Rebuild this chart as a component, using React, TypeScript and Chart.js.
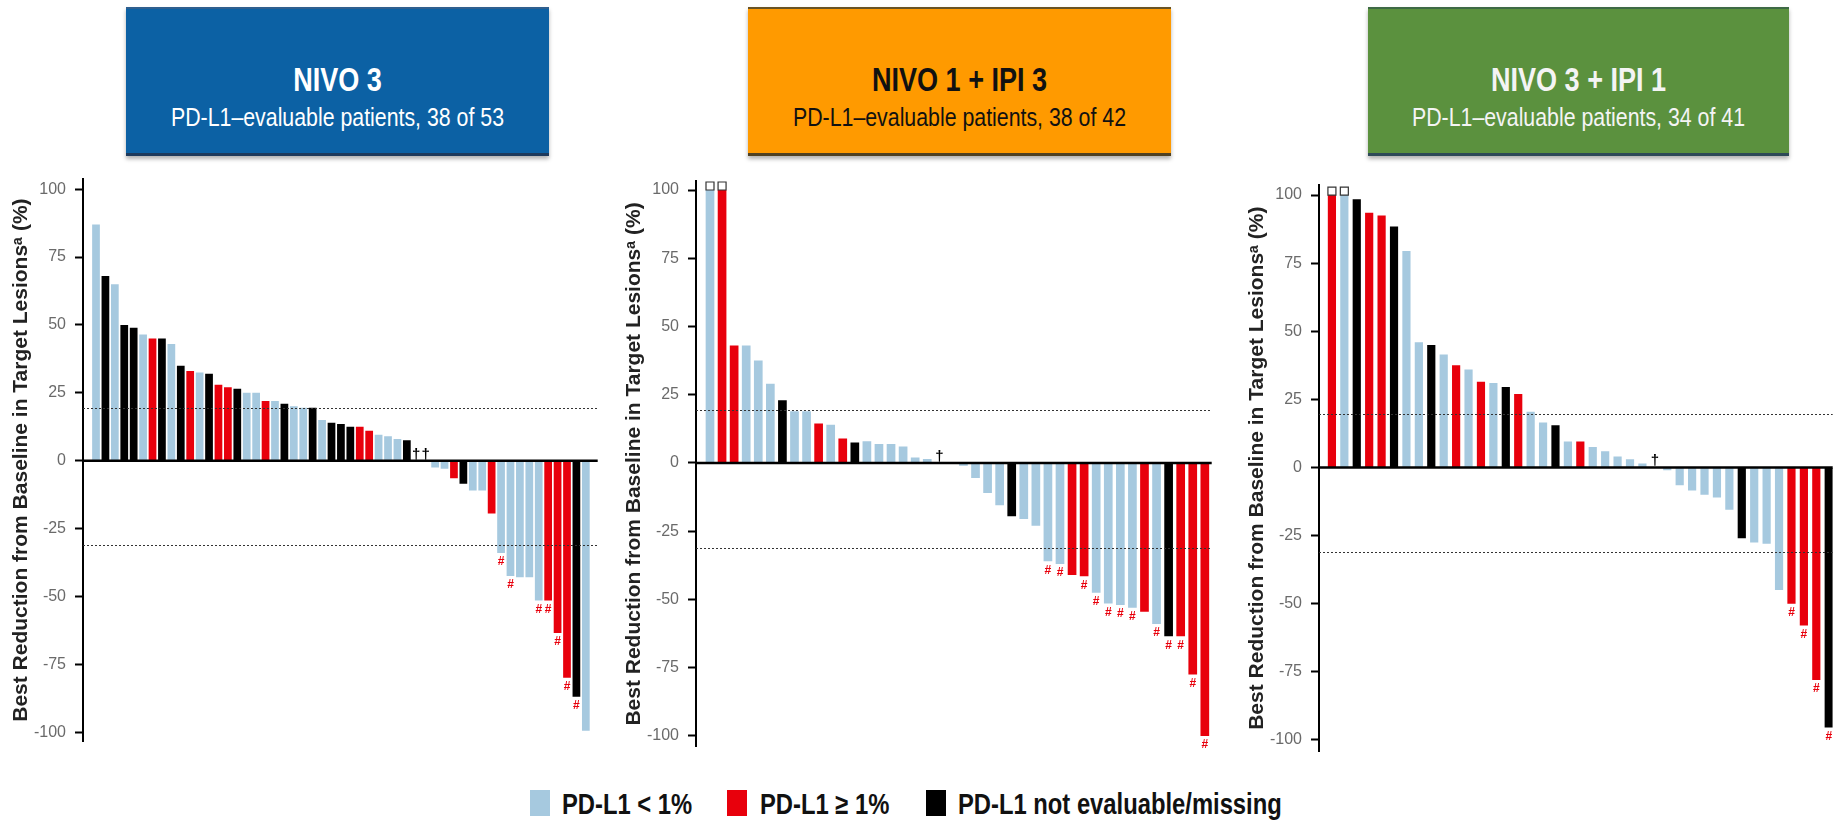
import React, { useEffect, useRef } from "react";
import { Chart, registerables } from "chart.js";
Chart.register(...registerables);

Chart.defaults.font.family = "'Liberation Sans', Arial, Helvetica, sans-serif";

// ---------- colours ----------
const COLORS: Record<string, string> = { L: "#A6C9DF", R: "#E8000C", B: "#000000" };

// ---------- shared axis ----------
const yTicks = [-100, -75, -50, -25, 0, 25, 50, 75, 100];
const yTitle = "Best Reduction from Baseline in Target Lesionsᵃ (%)";
const refLines = [19.5, -31];

// ---------- headers / legend ----------
const armTitles = ["NIVO 3", "NIVO 1 + IPI 3", "NIVO 3 + IPI 1"];
const armSubtitles = [
  "PD-L1–evaluable patients, 38 of 53",
  "PD-L1–evaluable patients, 38 of 42",
  "PD-L1–evaluable patients, 34 of 41",
];
const legendLabels = ["PD-L1 < 1%", "PD-L1 ≥ 1%", "PD-L1 not evaluable/missing"];
const legendGroups = ["L", "R", "B"];

// ---------- Panel 1: NIVO 3 ----------
const p1Values = [
  87, 68, 65, 50, 49, 46.5, 45, 45, 43, 35,
  33, 32.5, 32, 28, 27, 26.5, 25, 25, 22, 22,
  21, 20, 19.5, 19.5, 15, 14, 13.5, 12.5, 12.5, 11,
  9.5, 9, 8, 7.5, 0, 0, -2.5, -3, -6.5, -8.5,
  -11, -11, -19.5, -34, -42.5, -43, -43, -51.5, -51.5, -63.5,
  -80, -87, -99.5,
];
const p1Groups = [
  "L", "B", "L", "B", "B", "L", "R", "B", "L", "B",
  "R", "L", "B", "R", "R", "B", "L", "L", "R", "L",
  "B", "L", "L", "B", "L", "B", "B", "B", "R", "R",
  "L", "L", "L", "B", "L", "L", "L", "L", "R", "B",
  "L", "L", "R", "L", "L", "L", "L", "L", "R", "R",
  "R", "B", "L",
];
const p1Daggers = [35, 36];
const p1Hashes = [44, 45, 48, 49, 50, 51, 52];
const p1Squares: number[] = [];

// ---------- Panel 2: NIVO 1 + IPI 3 ----------
const p2Values = [
  100, 100, 43, 43, 37.5, 29, 23, 19, 19, 14.5,
  14, 9, 7.5, 8, 7, 7, 6, 2, 1.5, 0,
  0, -1, -5.5, -11, -15.5, -19.5, -20.5, -23, -36, -37,
  -41, -41.5, -47.5, -51.5, -52, -53, -54.5, -59, -63.5, -63.5,
  -77.5, -100,
];
const p2Groups = [
  "L", "R", "R", "L", "L", "L", "B", "L", "L", "R",
  "L", "R", "B", "L", "L", "L", "L", "L", "L", "L",
  "L", "L", "L", "L", "L", "B", "L", "L", "L", "L",
  "R", "R", "L", "L", "L", "L", "R", "L", "B", "R",
  "R", "R",
];
const p2Daggers = [20];
const p2Hashes = [29, 30, 32, 33, 34, 35, 36, 38, 39, 40, 41, 42];
const p2Squares = [1, 2];

// ---------- Panel 3: NIVO 3 + IPI 1 ----------
const p3Values = [
  100, 100, 98.5, 93.5, 92.5, 88.5, 79.5, 46, 45, 41.5,
  37.5, 36, 31.5, 31, 29.5, 27, 20.5, 16.5, 15.5, 9.5,
  9.5, 7.5, 6, 4, 3, 1.5, 0, -1, -6.5, -8.5,
  -10, -11, -15.5, -26, -27.5, -28, -45, -50, -58, -78,
  -95.5,
];
const p3Groups = [
  "R", "L", "B", "R", "R", "B", "L", "L", "B", "L",
  "R", "L", "R", "L", "B", "R", "L", "L", "B", "L",
  "R", "L", "L", "L", "L", "L", "L", "L", "L", "L",
  "L", "L", "L", "B", "L", "L", "L", "R", "R", "R",
  "B",
];
const p3Daggers = [27];
const p3Hashes = [38, 39, 40, 41];
const p3Squares = [1, 2];

const AXIS_W = 75;
const CANVAS_TOP = 160;
const CANVAS_BOTTOM = 775;

type PanelProps = {
  values: number[];
  groups: string[];
  daggers: number[];
  hashes: number[];
  squares: number[];
  axisX: number;
  rightX: number;
  areaTop: number;
  areaBottom: number;
  yMin: number;
  yMax: number;
  xMin: number;
  xMax: number;
  barPct: number;
};

function Panel(p: PanelProps) {
  const ref = useRef<HTMLCanvasElement | null>(null);
  const left = p.axisX - AXIS_W;
  const width = Math.ceil(p.rightX - left);
  const height = CANVAS_BOTTOM - CANVAS_TOP;
  useEffect(() => {
    if (!ref.current) return;
    const overlay = {
      id: "overlay",
      afterDatasetsDraw(chart: any) {
        const { ctx, chartArea: a, scales } = chart;
        const y = scales.y;
        ctx.save();
        // reference lines
        ctx.strokeStyle = "#333";
        ctx.lineWidth = 1;
        ctx.setLineDash([2, 2]);
        refLines.forEach((v) => {
          const py = Math.round(y.getPixelForValue(v)) + 0.5;
          ctx.beginPath();
          ctx.moveTo(a.left, py);
          ctx.lineTo(a.right, py);
          ctx.stroke();
        });
        ctx.setLineDash([]);
        // zero line
        const y0 = y.getPixelForValue(0);
        ctx.strokeStyle = "#000";
        ctx.lineWidth = 2.5;
        ctx.beginPath();
        ctx.moveTo(a.left, y0);
        ctx.lineTo(a.right, y0);
        ctx.stroke();
        // markers
        const meta = chart.getDatasetMeta(0);
        ctx.textAlign = "center";
        p.daggers.forEach((n) => {
          const el = meta.data[n - 1];
          ctx.fillStyle = "#000";
          ctx.font = "bold 15px 'Liberation Sans', Arial";
          ctx.textBaseline = "alphabetic";
          ctx.fillText("†", el.x, y0 - 2);
        });
        p.hashes.forEach((n) => {
          const el = meta.data[n - 1];
          ctx.fillStyle = COLORS.R;
          ctx.font = "bold 12px 'Liberation Sans', Arial";
          ctx.textBaseline = "top";
          ctx.fillText("#", el.x, el.y + 3);
        });
        p.squares.forEach((n) => {
          const el = meta.data[n - 1];
          ctx.fillStyle = "#fff";
          ctx.strokeStyle = "#333";
          ctx.lineWidth = 1.2;
          ctx.beginPath();
          ctx.rect(el.x - 4, el.y - 8, 8, 8);
          ctx.fill();
          ctx.stroke();
        });
        ctx.restore();
      },
    };
    const chart = new Chart(ref.current, {
      type: "bar",
      data: {
        datasets: [
          {
            data: p.values.map((v, i) => ({ x: i + 1, y: v })),
            backgroundColor: p.groups.map((g) => COLORS[g]),
            borderWidth: 0,
            categoryPercentage: 1,
            barPercentage: p.barPct,
          } as any,
        ],
      },
      options: {
        responsive: false,
        animation: false,
        layout: {
          padding: {
            left: 0,
            top: p.areaTop - CANVAS_TOP,
            bottom: CANVAS_BOTTOM - p.areaBottom,
            right: width - (p.rightX - left),
          },
        },
        plugins: { legend: { display: false }, tooltip: { enabled: false }, title: { display: false } },
        scales: {
          x: {
            type: "linear",
            min: p.xMin,
            max: p.xMax,
            offset: false,
            bounds: "data",
            grace: 0,
            display: false,
            grid: { offset: false },
            afterBuildTicks: (s: any) => {
              s.min = p.xMin;
              s.max = p.xMax;
            },
          },
          y: {
            min: p.yMin,
            max: p.yMax,
            afterBuildTicks: (s: any) => {
              s.min = p.yMin;
              s.max = p.yMax;
              s.ticks = yTicks.map((v) => ({ value: v }));
            },
            afterFit: (s: any) => {
              s.width = AXIS_W;
            },
            border: { display: true, color: "#000", width: 2 },
            grid: {
              drawOnChartArea: false,
              drawTicks: true,
              tickLength: 8,
              tickWidth: 2,
              tickColor: "#000",
            },
            ticks: {
              color: "#6a6a6a",
              font: { size: 16 },
              padding: 9,
              callback: (v: any) => String(v),
            },
            title: {
              display: true,
              text: yTitle,
              color: "#222",
              font: { size: 21, weight: "bold" },
              padding: { top: 0.5, bottom: 0 },
            },
          },
        },
      },
      plugins: [overlay],
    } as any);
    return () => chart.destroy();
  }, []);
  return (
    <canvas
      ref={ref}
      width={width}
      height={height}
      style={{ position: "absolute", left, top: CANVAS_TOP, width, height }}
    />
  );
}

const headerBoxes = [
  { left: 126, width: 423, bg: "#0C61A4", fg: "#FFFFFF", bTop: "#2F5F8F", bBottom: "#1E3A5C" },
  { left: 748, width: 423, bg: "#FF9A00", fg: "#111111", bTop: "#6A5424", bBottom: "#4F4122" },
  { left: 1368, width: 421, bg: "#5B913E", fg: "#F4F4F4", bTop: "#3E6A45", bBottom: "#2E4A58" },
];

const legendPos = [
  { sq: 530, tx: 562 },
  { sq: 727, tx: 760 },
  { sq: 926, tx: 958 },
];

export default function App() {
  const ff = "'Liberation Sans', Arial, Helvetica, sans-serif";
  return (
    <div
      style={{
        position: "fixed",
        left: 0,
        top: 0,
        width: 1833,
        height: 820,
        background: "#fff",
        overflow: "hidden",
        fontFamily: ff,
      }}
    >
      {headerBoxes.map((b, i) => (
        <div
          key={i}
          style={{
            position: "absolute",
            left: b.left,
            top: 7,
            width: b.width,
            height: 149,
            boxSizing: "border-box",
            background: b.bg,
            borderTop: `2px solid ${b.bTop}`,
            borderBottom: `3px solid ${b.bBottom}`,
            boxShadow: "0 3px 4px rgba(0,0,0,0.3)",
            color: b.fg,
          }}
        >
          <div
            style={{
              position: "absolute",
              left: 0,
              right: 0,
              top: 51,
              height: 40,
              lineHeight: "40px",
              textAlign: "center",
              fontWeight: "bold",
              fontSize: 33,
              transform: "scaleX(0.82)",
              whiteSpace: "nowrap",
            }}
          >
            {armTitles[i]}
          </div>
          <div
            style={{
              position: "absolute",
              left: 0,
              right: 0,
              top: 93,
              height: 30,
              lineHeight: "30px",
              textAlign: "center",
              fontSize: 26,
              transform: "scaleX(0.82)",
              whiteSpace: "nowrap",
            }}
          >
            {armSubtitles[i]}
          </div>
        </div>
      ))}

      <Panel
        values={p1Values}
        groups={p1Groups}
        daggers={p1Daggers}
        hashes={p1Hashes}
        squares={p1Squares}
        axisX={83.3}
        rightX={598}
        areaTop={176.7}
        areaBottom={741.6}
        yMin={-103.5}
        yMax={103.9}
        xMin={-0.38}
        xMax={54.26}
        barPct={0.82}
      />
      <Panel
        values={p2Values}
        groups={p2Groups}
        daggers={p2Daggers}
        hashes={p2Hashes}
        squares={p2Squares}
        axisX={696}
        rightX={1211.7}
        areaTop={181}
        areaBottom={746.9}
        yMin={-104}
        yMax={103.3}
        xMin={-0.16}
        xMax={42.57}
        barPct={0.72}
      />
      <Panel
        values={p3Values}
        groups={p3Groups}
        daggers={p3Daggers}
        hashes={p3Hashes}
        squares={p3Squares}
        axisX={1319.3}
        rightX={1833}
        areaTop={185}
        areaBottom={751.3}
        yMin={-104.2}
        yMax={103.7}
        xMin={-0.04}
        xMax={41.32}
        barPct={0.66}
      />

      {legendPos.map((pos, i) => (
        <React.Fragment key={i}>
          <div
            style={{
              position: "absolute",
              left: pos.sq,
              top: 790,
              width: 20,
              height: 26,
              background: COLORS[legendGroups[i]],
            }}
          />
          <div
            style={{
              position: "absolute",
              left: pos.tx,
              top: 788,
              height: 32,
              lineHeight: "32px",
              fontSize: 29,
              fontWeight: "bold",
              color: "#111",
              whiteSpace: "nowrap",
              transform: "scaleX(0.82)",
              transformOrigin: "left center",
            }}
          >
            {legendLabels[i]}
          </div>
        </React.Fragment>
      ))}
    </div>
  );
}
